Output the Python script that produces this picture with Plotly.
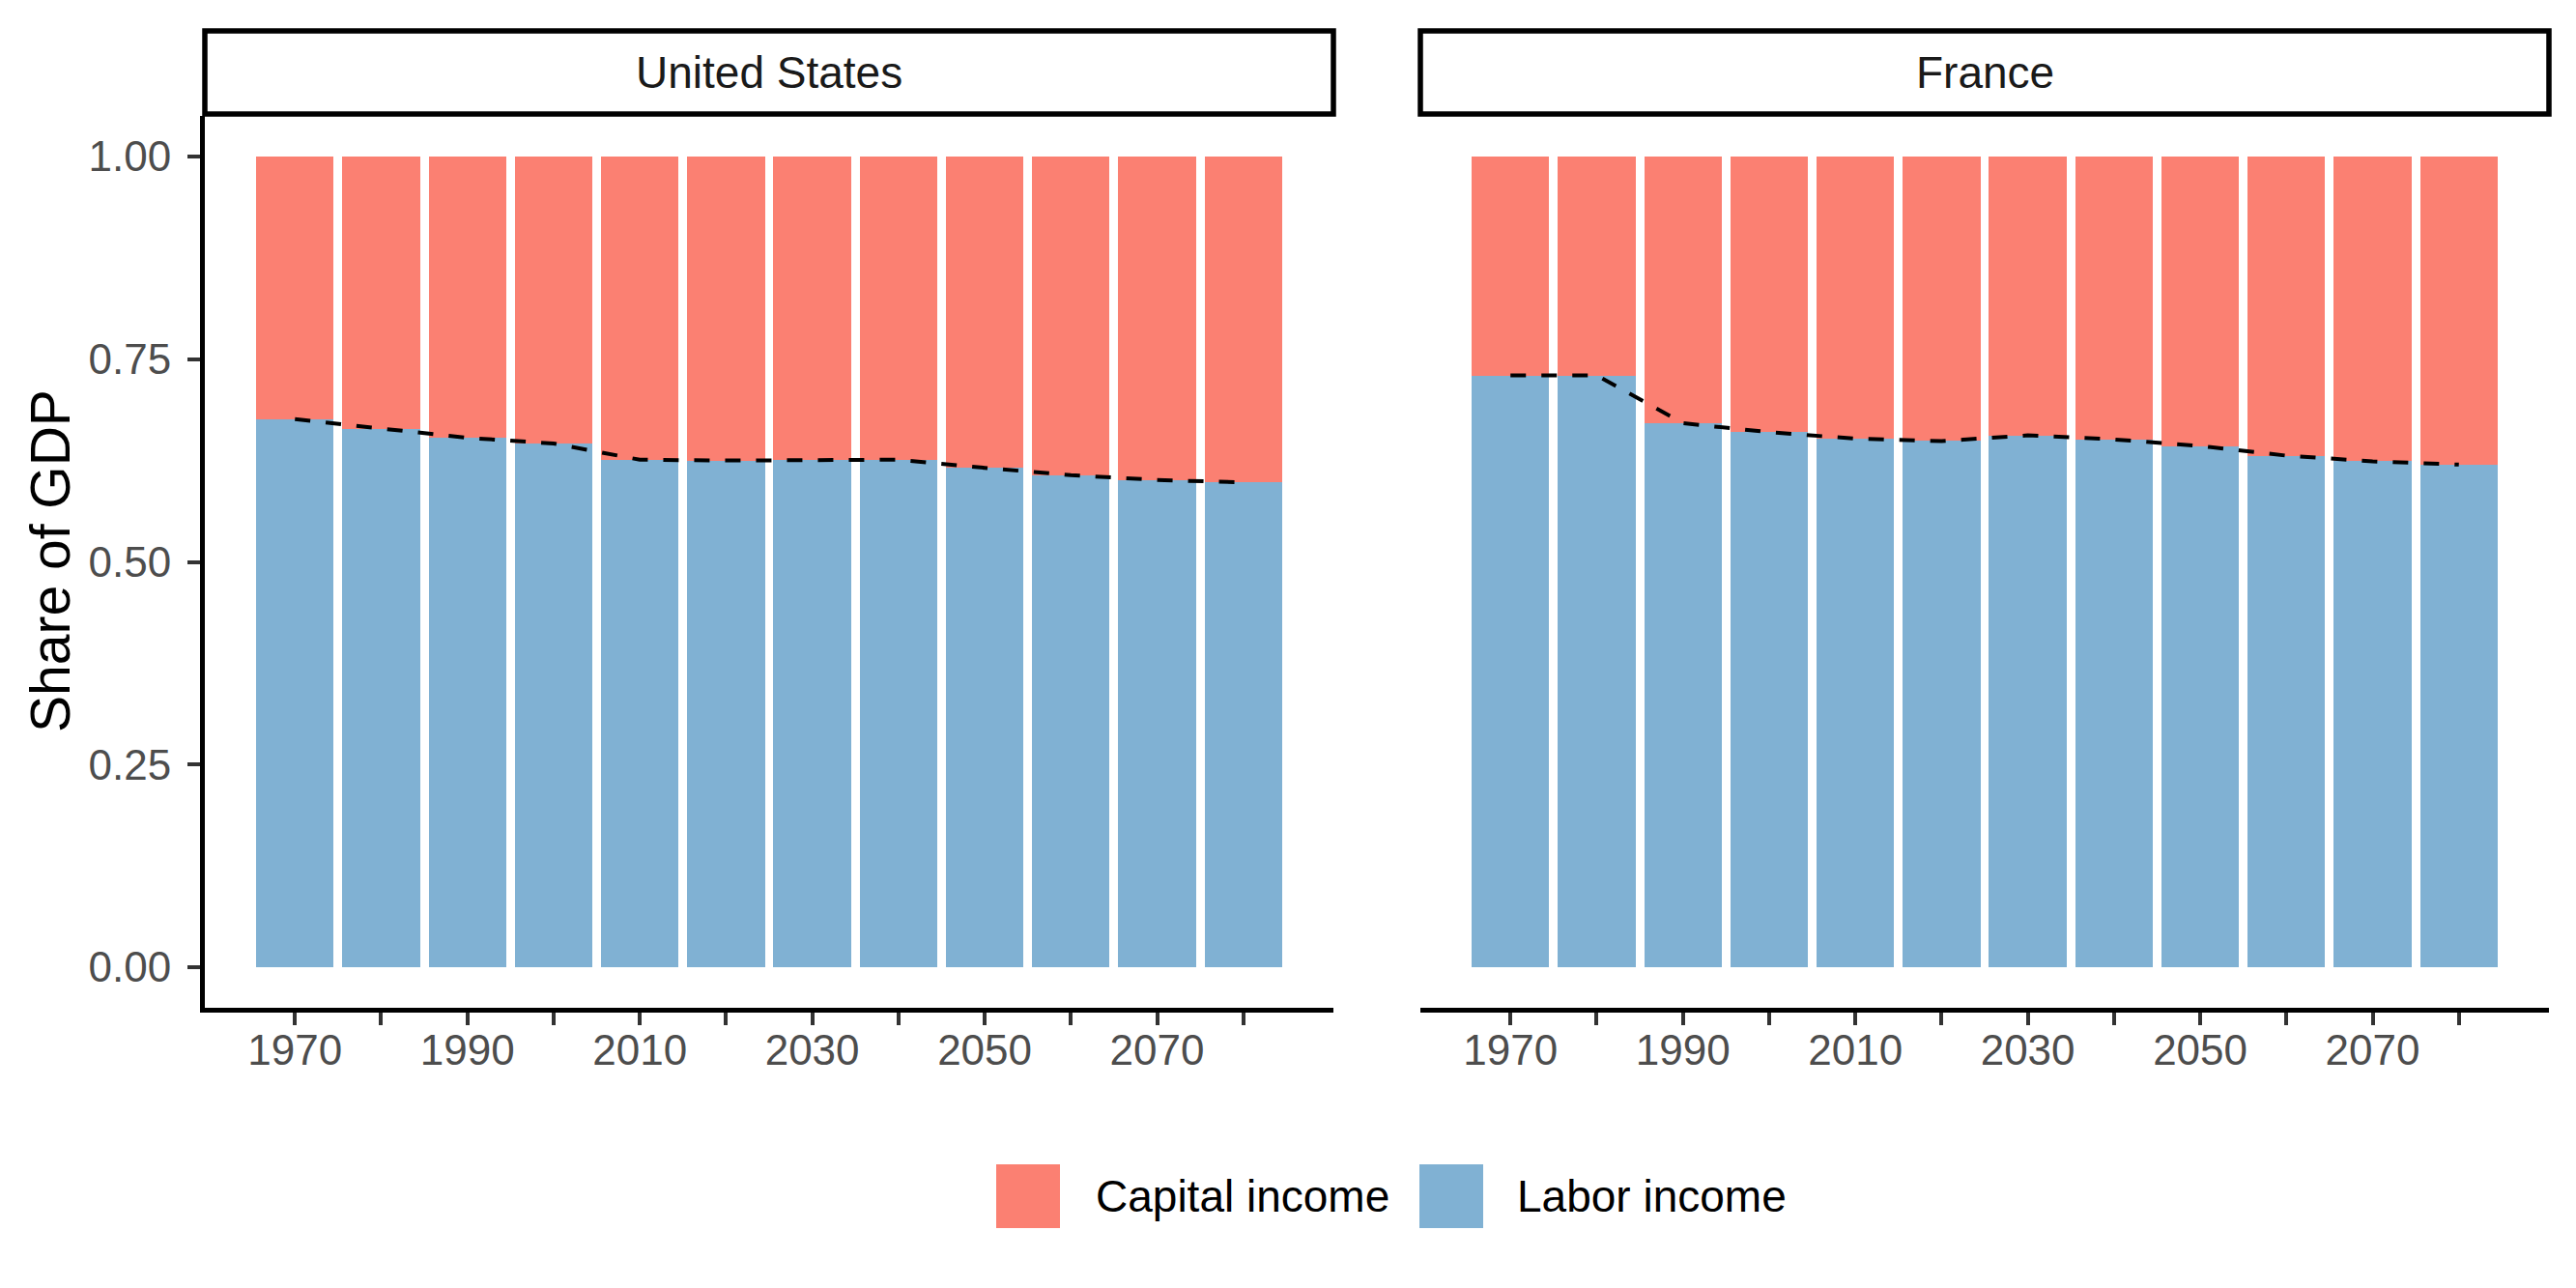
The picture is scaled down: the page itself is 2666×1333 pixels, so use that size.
import plotly.graph_objects as go

# decade bars, same years for both countries
years = [1970, 1980, 1990, 2000, 2010, 2020, 2030, 2040, 2050, 2060, 2070, 2080]
tick_years = [1970, 1980, 1990, 2000, 2010, 2020, 2030, 2040, 2050, 2060, 2070, 2080]
tick_text = ["1970", "", "1990", "", "2010", "", "2030", "", "2050", "", "2070", ""]

us_labor = [0.676, 0.664, 0.653, 0.646, 0.626, 0.625, 0.626, 0.626, 0.616, 0.607, 0.601, 0.598]
us_capital = [0.324, 0.336, 0.347, 0.354, 0.374, 0.375, 0.374, 0.374, 0.384, 0.393, 0.399, 0.402]

fr_labor = [0.730, 0.730, 0.671, 0.660, 0.652, 0.649, 0.656, 0.651, 0.643, 0.631, 0.624, 0.620]
fr_capital = [0.270, 0.270, 0.329, 0.340, 0.348, 0.351, 0.344, 0.349, 0.357, 0.369, 0.376, 0.380]

panels = ["United States", "France"]
series = ["Capital income", "Labor income"]
colors = {"Capital income": "#FB8072", "Labor income": "#80B1D3"}

# page body has an 8px margin, so the figure is drawn 16px smaller and shifted
OFF = 8
W, H = 2666 - 2 * OFF, 1333 - 2 * OFF
FONT = "Liberation Sans, Arial, sans-serif"

def px_x(p):
    return (p - OFF) / W

def px_y(p):
    return 1 - (p - OFF) / H

fig = go.Figure()

data = [(us_labor, us_capital, "x", "y"), (fr_labor, fr_capital, "x2", "y2")]
for labor, capital, xa, ya in data:
    fig.add_trace(go.Bar(x=years, y=labor, width=9, marker=dict(color=colors["Labor income"], line_width=0),
                         name="Labor income", showlegend=False, xaxis=xa, yaxis=ya))
    fig.add_trace(go.Bar(x=years, y=capital, width=9, marker=dict(color=colors["Capital income"], line_width=0),
                         name="Capital income", showlegend=False, xaxis=xa, yaxis=ya))
    fig.add_trace(go.Scatter(x=years, y=labor, mode="lines", line=dict(color="black", width=4, dash="16px,16px"),
                             showlegend=False, xaxis=xa, yaxis=ya))

xr = [1959.55, 2090.45]
yr = [-0.05, 1.05]
ydom = [px_y(1043), px_y(120)]

xcommon = dict(range=xr, tickmode="array", tickvals=tick_years, ticktext=tick_text,
               showline=True, linecolor="black", linewidth=5, ticks="outside", ticklen=13,
               tickwidth=4, tickcolor="#333333", showgrid=False, zeroline=False,
               tickfont=dict(family=FONT, size=44, color="#4D4D4D"), ticklabelstandoff=-12)

fig.update_layout(
    width=W, height=H, barmode="stack", bargap=0,
    margin=dict(l=0, r=0, t=0, b=0),
    paper_bgcolor="white", plot_bgcolor="white",
    xaxis=dict(domain=[px_x(212), px_x(1380)], anchor="y", **xcommon),
    xaxis2=dict(domain=[px_x(1470), px_x(2638)], anchor="y2", **xcommon),
    yaxis=dict(domain=ydom, range=yr, tickmode="array", tickvals=[0, 0.25, 0.5, 0.75, 1.0],
               ticktext=["0.00", "0.25", "0.50", "0.75", "1.00"], showline=True, linecolor="black",
               linewidth=5, ticks="outside", ticklen=13, tickwidth=4, tickcolor="#333333",
               showgrid=False, zeroline=False, ticklabelstandoff=8,
               tickfont=dict(family=FONT, size=44, color="#4D4D4D"), anchor="x"),
    yaxis2=dict(domain=ydom, range=yr, showline=False, showticklabels=False, ticks="",
                showgrid=False, zeroline=False, anchor="x2", matches="y"),
    showlegend=False,
)

shapes = []
annotations = []

# facet strips
for name, (x0, x1) in zip(panels, [(212, 1380), (1470, 2638)]):
    shapes.append(dict(type="rect", xref="paper", yref="paper", x0=px_x(x0), x1=px_x(x1),
                       y0=px_y(118), y1=px_y(32), line=dict(color="black", width=5.5), fillcolor="white"))
    annotations.append(dict(text=name, xref="paper", yref="paper", x=px_x((x0 + x1) / 2), y=px_y(75),
                            showarrow=False, xanchor="center", yanchor="middle",
                            font=dict(family=FONT, size=46, color="#1A1A1A")))

# y title
annotations.append(dict(text="Share of GDP", xref="paper", yref="paper", x=px_x(52), y=px_y(581),
                        textangle=-90, showarrow=False, xanchor="center", yanchor="middle",
                        font=dict(family=FONT, size=57, color="black")))

# legend keys
for name, kx, tx in zip(series, [1031, 1469], [1132, 1568]):
    shapes.append(dict(type="rect", xref="paper", yref="paper", x0=px_x(kx), x1=px_x(kx + 66),
                       y0=px_y(1271), y1=px_y(1205), line_width=0, fillcolor=colors[name]))
    annotations.append(dict(text=name, xref="paper", yref="paper", x=px_x(tx), y=px_y(1238),
                            showarrow=False, xanchor="left", yanchor="middle",
                            font=dict(family=FONT, size=46, color="black")))

fig.update_layout(shapes=shapes, annotations=annotations)

fig.write_html("out.html")
